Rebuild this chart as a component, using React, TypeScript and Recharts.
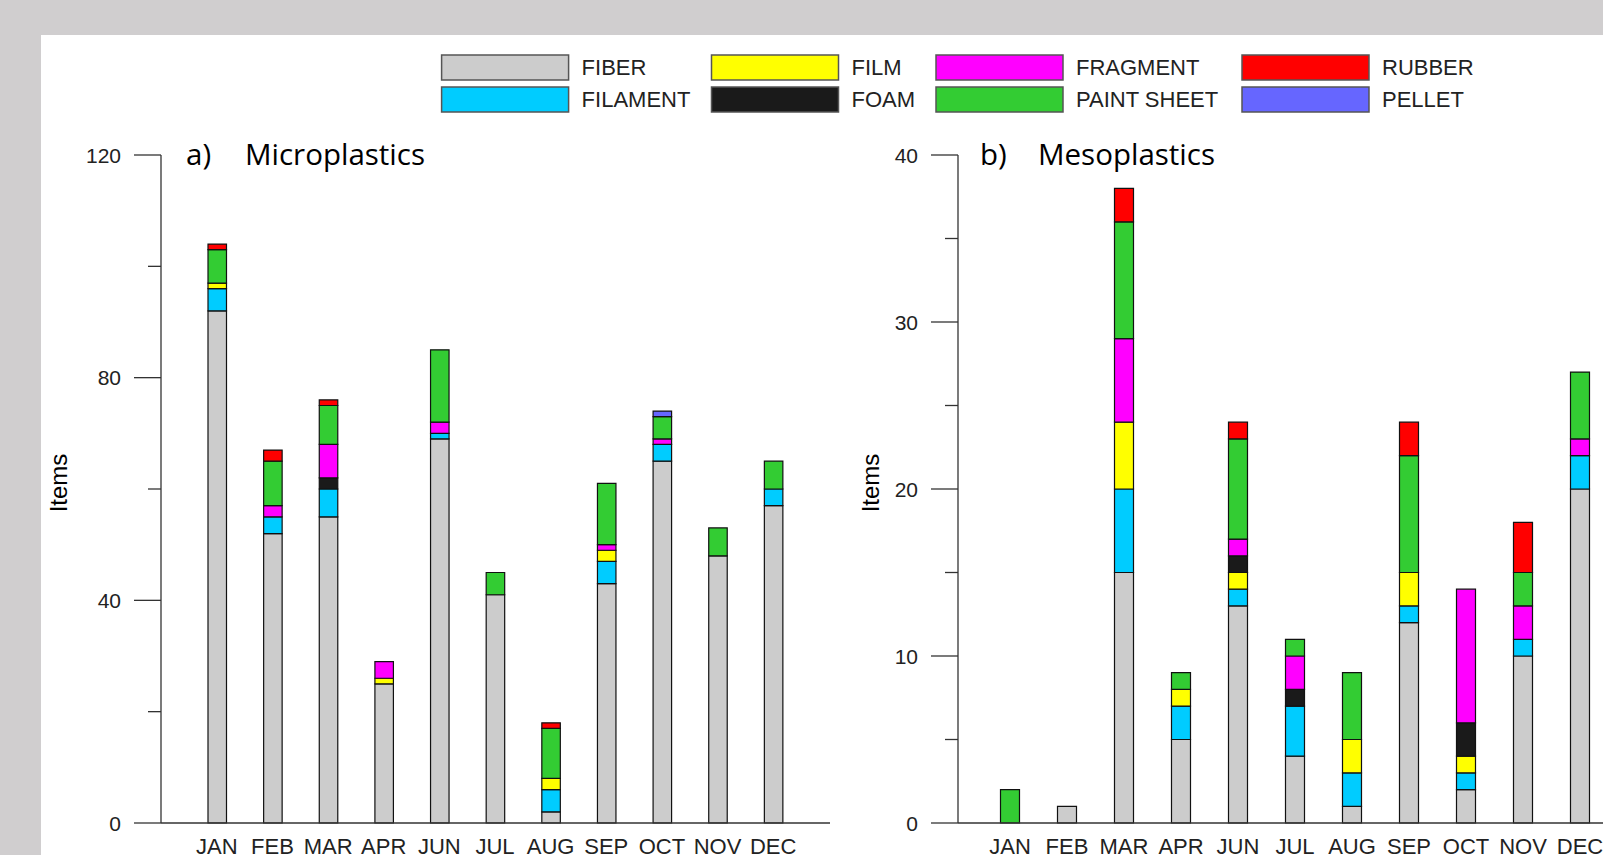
import React from "react";
import { BarChart, Bar, XAxis, YAxis } from "recharts";

const months = ["JAN", "FEB", "MAR", "APR", "JUN", "JUL", "AUG", "SEP", "OCT", "NOV", "DEC"];

// a) Microplastics
const microFiber = [92, 52, 55, 25, 69, 41, 2, 43, 65, 48, 57];
const microFilament = [4, 3, 5, 0, 1, 0, 4, 4, 3, 0, 3];
const microFilm = [1, 0, 0, 1, 0, 0, 2, 2, 0, 0, 0];
const microFoam = [0, 0, 2, 0, 0, 0, 0, 0, 0, 0, 0];
const microFragment = [0, 2, 6, 3, 2, 0, 0, 1, 1, 0, 0];
const microPaint = [6, 8, 7, 0, 13, 4, 9, 11, 4, 5, 5];
const microRubber = [1, 2, 1, 0, 0, 0, 1, 0, 0, 0, 0];
const microPellet = [0, 0, 0, 0, 0, 0, 0, 0, 1, 0, 0];

// b) Mesoplastics
const mesoFiber = [0, 1, 15, 5, 13, 4, 1, 12, 2, 10, 20];
const mesoFilament = [0, 0, 5, 2, 1, 3, 2, 1, 1, 1, 2];
const mesoFilm = [0, 0, 4, 1, 1, 0, 2, 2, 1, 0, 0];
const mesoFoam = [0, 0, 0, 0, 1, 1, 0, 0, 2, 0, 0];
const mesoFragment = [0, 0, 5, 0, 1, 2, 0, 0, 8, 2, 1];
const mesoPaint = [2, 0, 7, 1, 6, 1, 4, 7, 0, 2, 4];
const mesoRubber = [0, 0, 2, 0, 1, 0, 0, 2, 0, 3, 0];
const mesoPellet = [0, 0, 0, 0, 0, 0, 0, 0, 0, 0, 0];

const microTicks = [0, 20, 40, 60, 80, 100, 120];
const mesoTicks = [0, 5, 10, 15, 20, 25, 30, 35, 40];

// stacking order, bottom to top
const types = [
  { key: "fiber", name: "FIBER", color: "#cccccc" },
  { key: "filament", name: "FILAMENT", color: "#00ccff" },
  { key: "film", name: "FILM", color: "#ffff00" },
  { key: "foam", name: "FOAM", color: "#1a1a1a" },
  { key: "fragment", name: "FRAGMENT", color: "#ff00ff" },
  { key: "paint", name: "PAINT SHEET", color: "#33cc33" },
  { key: "rubber", name: "RUBBER", color: "#ff0000" },
  { key: "pellet", name: "PELLET", color: "#6666ff" },
];

const buildRows = (series: number[][]) =>
  months.map((m, i) => {
    const row: Record<string, any> = { month: m };
    types.forEach((t, j) => (row[t.key] = series[j][i]));
    return row;
  });

const microData = buildRows([
  microFiber, microFilament, microFilm, microFoam,
  microFragment, microPaint, microRubber, microPellet,
]);
const mesoData = buildRows([
  mesoFiber, mesoFilament, mesoFilm, mesoFoam,
  mesoFragment, mesoPaint, mesoRubber, mesoPellet,
]);

const AXIS = "#333";
const FONT = "'Liberation Sans', Arial, sans-serif";
const TITLE_FONT = "'Open Sans', sans-serif";

const makeYTick = (step: number) => (props: any) => {
  const { x, y, payload } = props;
  const major = payload.value % step === 0;
  return (
    <g>
      <line x1={x - (major ? 27 : 13)} x2={x} y1={y} y2={y} stroke={AXIS} strokeWidth={1.3} />
      {major && (
        <text x={x - 40} y={y} dy="0.36em" textAnchor="end" fontSize={21} fontFamily={FONT} fill="#222">
          {payload.value}
        </text>
      )}
    </g>
  );
};

const XTick = (props: any) => {
  const { x, y, payload } = props;
  return (
    <text x={x} y={y + 31} textAnchor="middle" fontSize={22} fontFamily={FONT} fill="#222">
      {payload.value}
    </text>
  );
};

const Panel = ({
  data, ticks, max, step, width, yWidth, margin, padding, barSize,
}: any) => (
  <BarChart width={width} height={855} data={data} margin={margin}>
    <XAxis
      dataKey="month"
      height={32}
      padding={padding}
      tickLine={false}
      tickSize={0}
      tickMargin={0}
      tick={<XTick />}
      axisLine={{ stroke: AXIS, strokeWidth: 1.3 }}
      interval={0}
    />
    <YAxis
      type="number"
      domain={[0, max]}
      ticks={ticks}
      width={yWidth}
      tickLine={false}
      tickSize={0}
      tickMargin={0}
      tick={makeYTick(step)}
      axisLine={{ stroke: AXIS, strokeWidth: 1.3 }}
      interval={0}
    />
    {types.map((t) => (
      <Bar
        key={t.key}
        dataKey={t.key}
        name={t.name}
        stackId="s"
        fill={t.color}
        stroke="#111"
        strokeWidth={1.2}
        barSize={barSize}
        isAnimationActive={false}
      />
    ))}
  </BarChart>
);

const legendCols = [441.6, 711.5, 936, 1242];
const legendRows = [55, 87];

export default function App() {
  return (
    <div
      style={{
        position: "absolute", left: 0, top: 0, width: 1603, height: 855,
        background: "#d0cecf", overflow: "hidden",
      }}
    >
      <div style={{ position: "absolute", left: 41, top: 35, width: 1562, height: 820, background: "#fff" }} />
      <div style={{ position: "absolute", left: 0, top: 0 }}>
        <Panel
          data={microData}
          ticks={microTicks}
          max={120}
          step={40}
          width={840}
          yWidth={161}
          margin={{ top: 155, right: 10, bottom: 0, left: 0 }}
          padding={{ left: 28, right: 29 }}
          barSize={18.5}
        />
      </div>
      <div style={{ position: "absolute", left: 800, top: 0 }}>
        <Panel
          data={mesoData}
          ticks={mesoTicks}
          max={40}
          step={10}
          width={900}
          yWidth={158}
          margin={{ top: 155, right: 0, bottom: 0, left: 0 }}
          padding={{ left: 23.5, right: 91.5 }}
          barSize={19}
        />
      </div>
      <svg
        width={1603}
        height={855}
        style={{ position: "absolute", left: 0, top: 0, pointerEvents: "none" }}
      >
        {types.map((t, i) => {
          const bx = legendCols[Math.floor(i / 2)];
          const by = legendRows[i % 2];
          return (
            <g key={t.key}>
              <rect x={bx} y={by} width={127} height={25} fill={t.color} stroke="#555" strokeWidth={1.5} />
              <text x={bx + 140} y={by + 12.5} dy="0.36em" fontSize={22} fontFamily={FONT} fill="#222">
                {t.name}
              </text>
            </g>
          );
        })}
        <text x={186} y={165} fontSize={29.5} fontFamily={TITLE_FONT} fill="#000">a)</text>
        <text x={245} y={165} fontSize={29.5} fontFamily={TITLE_FONT} fill="#000">Microplastics</text>
        <text x={980} y={165} fontSize={29.5} fontFamily={TITLE_FONT} fill="#000">b)</text>
        <text x={1038} y={165} fontSize={29.5} fontFamily={TITLE_FONT} fill="#000">Mesoplastics</text>
        <text
          x={58} y={483} dy="0.36em" textAnchor="middle" fontSize={24} fontFamily={FONT}
          fill="#000" transform="rotate(-90, 58, 483)"
        >
          Items
        </text>
        <text
          x={870} y={483} dy="0.36em" textAnchor="middle" fontSize={24} fontFamily={FONT}
          fill="#000" transform="rotate(-90, 870, 483)"
        >
          Items
        </text>
      </svg>
    </div>
  );
}
